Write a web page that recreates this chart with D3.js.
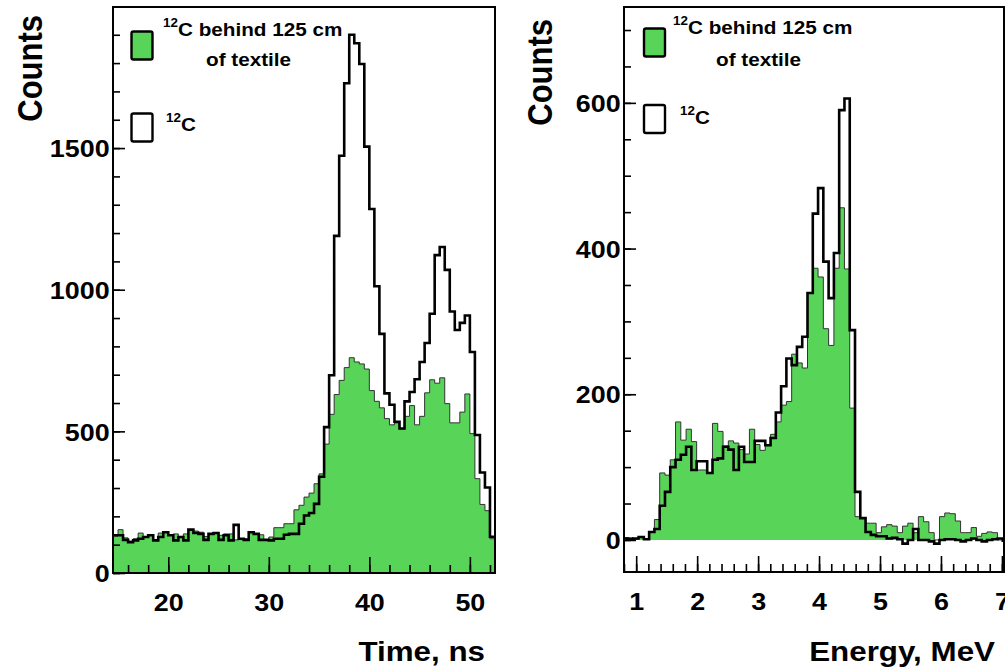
<!DOCTYPE html>
<html>
<head>
<meta charset="utf-8">
<script src="https://cdn.jsdelivr.net/npm/d3@7"></script>
<style>
body { margin: 0; background: #fff; }
svg { display: block; font-family: "Liberation Sans", Arial, sans-serif; font-weight: bold; }
</style>
</head>
<body>
<svg id="svgfield" width="1005" height="672"></svg>
<script>
// time spectrum: 0.5 ns bins, first bin starts at 14.5 ns
var timeLow = 14.5, timeStep = 0.5;
var timeTextile = [130, 153, 124, 112, 121, 141, 127, 136, 117, 141,
  144, 133, 138, 129, 138, 153, 148, 144, 129, 138,
  141, 133, 138, 138, 117, 121, 121, 144, 138, 135,
  117, 127, 160, 160, 174, 174, 223, 239, 268, 282,
  315, 350, 455, 560, 630, 680, 725, 760, 745, 738,
  720, 644, 606, 583, 545, 523, 530, 508, 553, 591,
  523, 553, 636, 682, 670, 689, 598, 530, 530, 568,
  632, 492, 333, 242, 220, 121];
var timeBare = [133, 133, 117, 109, 115, 121, 127, 133, 115, 127,
  144, 133, 115, 127, 115, 153, 141, 138, 117, 138,
  141, 117, 133, 115, 170, 121, 117, 144, 138, 117,
  117, 115, 121, 121, 135, 138, 138, 174, 203, 212,
  244, 340, 515, 698, 1190, 1473, 1729, 1900, 1870, 1797,
  1505, 1285, 1012, 844, 634, 594, 534, 510, 606, 639,
  684, 745, 812, 915, 1122, 1151, 1070, 923, 858, 883,
  909, 780, 487, 355, 302, 128];

// energy spectrum: 0.0866 MeV bins, listed from bin 9 on
var energyStep = 0.0866, energyFirst = 9;
var energyTextile = [3, 3, 1, 4, 1, 11, 28, 92, 89, 110,
  162, 137, 152, 135, 96, 96, 92, 160, 149, 129,
  136, 133, 124, 118, 152, 131, 123, 130, 145, 162,
  185, 190, 255, 243, 236, 339, 373, 361, 290, 267,
  373, 456, 372, 181, 32, 30, 23, 23, 10, 18,
  21, 19, 10, 19, 23, 10, 32, 25, 10, 0,
  32, 37, 36, 26, 10, 10, 17, 5, 9, 11,
  10, 0, 0];
var energyBare = [2, 1, 2, 4, 1, 11, 15, 47, 66, 100,
  110, 117, 128, 96, 108, 108, 92, 110, 112, 128,
  124, 96, 128, 107, 107, 136, 136, 130, 140, 175,
  211, 249, 240, 265, 279, 339, 448, 483, 382, 332,
  394, 590, 606, 288, 66, 30, 11, 7, 5, 5,
  2, 3, 1, -5, 0, 15, 0, 0, -2, -5,
  0, 1, 1, 0, -2, 0, 2, 0, -2, 0,
  1, 2, -1];

var timeTicks = [20, 30, 40, 50];
var timeCountTicks = [0, 500, 1000, 1500];
var energyTicks = [1, 2, 3, 4, 5, 6, 7];
var energyCountTicks = [0, 200, 400, 600];

var green = "#58d458";
var sx = 1.12;   // lettering in the original is a bit wider than Liberation Sans

var svg = d3.select("#svgfield");

function wideText(parent, x, y, str, size, anchor, rotate) {
  return parent.append("text")
    .attr("transform", "translate(" + x + "," + y + ") scale(" + sx + ",1)" + (rotate ? " rotate(-90)" : ""))
    .attr("text-anchor", anchor || "start")
    .style("font-size", size + "px")
    .text(str);
}

function carbon(parent, x, y, rest) {
  var t = parent.append("text")
    .attr("transform", "translate(" + x + "," + y + ") scale(" + sx + ",1)")
    .style("font-size", "18.5px");
  t.append("tspan").style("font-size", "12px").attr("dy", -9).text("12");
  t.append("tspan").attr("dy", 9).text(rest);
  return t;
}

function styleAxis(a) {
  a.select(".domain").remove();
  a.attr("font-family", null).attr("font-size", null);
  a.selectAll("line").attr("stroke", "#000").attr("stroke-width", 1.6);
  a.selectAll("text").attr("fill", "#000").style("font-size", "24px");
}

function drawPanel(p) {
  var x = d3.scaleLinear().domain(p.xdom).range([p.left, p.right]);
  var y = d3.scaleLinear().domain(p.ydom).range([p.bottom, p.top]);
  var g = svg.append("g");

  g.append("clipPath").attr("id", "clip-" + p.id).append("rect")
    .attr("x", p.left).attr("y", p.top)
    .attr("width", p.right - p.left).attr("height", p.bottom - p.top);

  function steps(vals, floor) {
    var pts = vals.map(function(v, i) { return [p.edge(i), floor ? Math.max(v, 0) : v]; });
    pts.push([p.edge(vals.length), pts[pts.length - 1][1]]);
    return pts;
  }
  var line = d3.line().curve(d3.curveStepAfter)
    .x(function(d) { return x(d[0]); })
    .y(function(d) { return y(d[1]); });
  var area = d3.area().curve(d3.curveStepAfter)
    .x(function(d) { return x(d[0]); })
    .y0(y(0))
    .y1(function(d) { return y(d[1]); });

  var plot = g.append("g").attr("clip-path", "url(#clip-" + p.id + ")");
  var fill = steps(p.textile, true);
  plot.append("path").datum(fill).attr("d", area).attr("fill", green);
  plot.append("path").datum(fill).attr("d", line)
    .attr("fill", "none").attr("stroke", "#333").attr("stroke-width", 1);
  plot.append("path").datum(steps(p.bare, false)).attr("d", line)
    .attr("fill", "none").attr("stroke", "#000").attr("stroke-width", 2.6);

  // axes, ticks pointing into the frame
  var xa = g.append("g").attr("transform", "translate(0," + p.bottom + ")")
    .call(d3.axisBottom(x).tickValues(p.xTicks).tickSizeInner(-16).tickSizeOuter(0)
      .tickPadding(21).tickFormat(d3.format("d")));
  styleAxis(xa);
  xa.selectAll("text").attr("transform", "scale(" + sx + ",1)");
  var xm = g.append("g").attr("transform", "translate(0," + p.bottom + ")")
    .call(d3.axisBottom(x).tickValues(p.xMinor).tickSizeInner(-8).tickSizeOuter(0).tickFormat(""));
  styleAxis(xm);

  var ya = g.append("g").attr("transform", "translate(" + p.left + ",0)")
    .call(d3.axisLeft(y).tickValues(p.yTicks).tickSizeInner(-12).tickSizeOuter(0)
      .tickPadding(3).tickFormat(d3.format("d")));
  styleAxis(ya);
  ya.selectAll("text").attr("transform", "scale(" + sx + ",1)").attr("dy", "0.36em");
  var ym = g.append("g").attr("transform", "translate(" + p.left + ",0)")
    .call(d3.axisLeft(y).tickValues(p.yMinor).tickSizeInner(-7).tickSizeOuter(0).tickFormat(""));
  styleAxis(ym);

  g.append("rect")
    .attr("x", p.left).attr("y", p.top)
    .attr("width", p.right - p.left).attr("height", p.bottom - p.top)
    .attr("fill", "none").attr("stroke", "#000").attr("stroke-width", 2);

  wideText(g, p.yTitle[0], p.yTitle[1], "Counts", 31, "end", true);
  wideText(g, p.xTitle[0], p.xTitle[1], p.xLabel, 28, "end");

  // legend
  var L = p.legend;
  g.append("rect").attr("x", L.boxX).attr("y", L.box1).attr("width", 21).attr("height", 28).attr("rx", 2)
    .attr("fill", green).attr("stroke", "#000").attr("stroke-width", 2.4);
  g.append("rect").attr("x", L.boxX).attr("y", L.box2).attr("width", 21).attr("height", 28).attr("rx", 2)
    .attr("fill", "#fff").attr("stroke", "#000").attr("stroke-width", 2.4);
  carbon(g, L.line1[0], L.line1[1], "C behind 125 cm");
  wideText(g, L.line2[0], L.line2[1], "of textile", 18.5);
  carbon(g, L.line3[0], L.line3[1], "C");
}

drawPanel({
  id: "time", left: 113, right: 495, top: 7, bottom: 573,
  xdom: [14.5, 52.5], ydom: [0, 1998],
  edge: function(i) { return timeLow + i * timeStep; },
  textile: timeTextile, bare: timeBare,
  xTicks: timeTicks, xMinor: d3.range(8, 27).map(function(i) { return 2 * i; }),
  yTicks: timeCountTicks, yMinor: d3.range(0, 2000, 100),
  xLabel: "Time, ns", xTitle: [485, 661], yTitle: [42, 15],
  legend: { boxX: 131.5, box1: 31.5, box2: 113.5, line1: [163, 36], line2: [206, 66], line3: [166, 131] }
});

drawPanel({
  id: "energy", left: 624, right: 1004, top: 7, bottom: 572,
  xdom: [0.8, 7.034], ydom: [-44, 731.6],
  edge: function(i) { return (energyFirst + i) * energyStep; },
  textile: energyTextile, bare: energyBare,
  xTicks: energyTicks, xMinor: d3.range(4, 36).map(function(i) { return i / 5; }),
  yTicks: energyCountTicks, yMinor: d3.range(0, 750, 50),
  xLabel: "Energy, MeV", xTitle: [995, 661], yTitle: [552, 19],
  legend: { boxX: 644, box1: 28.5, box2: 105, line1: [673, 34], line2: [716, 66], line3: [680, 124] }
});
</script>
</body>
</html>
